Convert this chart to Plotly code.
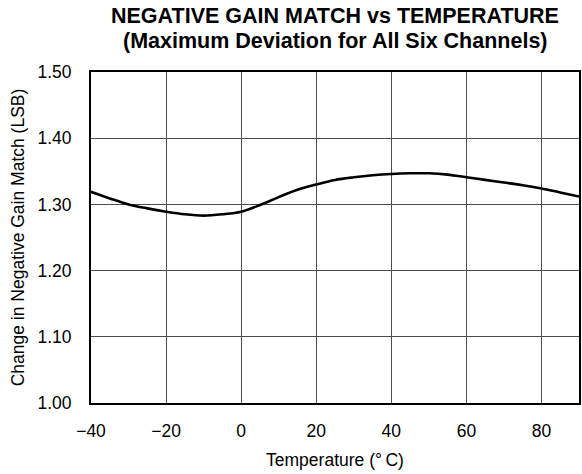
import plotly.graph_objects as go

temperature = [-40, -35, -30, -25, -20, -15, -10, -5, 0, 5, 10, 15, 20, 25, 30, 35, 40, 45, 50, 55, 60, 65, 70, 75, 80, 85, 90]
gain_match = [1.319, 1.309, 1.300, 1.294, 1.289, 1.285, 1.283, 1.285, 1.289, 1.299, 1.311, 1.322, 1.330, 1.337, 1.341, 1.344, 1.346, 1.347, 1.347, 1.345, 1.341, 1.337, 1.333, 1.329, 1.324, 1.318, 1.312]

x_ticks = [-40, -20, 0, 20, 40, 60, 80]
y_ticks = [1.00, 1.10, 1.20, 1.30, 1.40, 1.50]
y_labels = ["1.00", "1.10", "1.20", "1.30", "1.40", "1.50"]

title_line1 = "NEGATIVE GAIN MATCH vs TEMPERATURE"
title_line2 = "(Maximum Deviation for All Six Channels)"

font = "Liberation Sans, Arial, sans-serif"
fs = 17.5

fig = go.Figure()
fig.add_trace(go.Scatter(x=temperature, y=gain_match, mode="lines",
                         line=dict(color="black", width=2.6, shape="spline", smoothing=1.0),
                         showlegend=False, hoverinfo="skip"))

fig.update_layout(
    width=582, height=474,
    margin=dict(l=91, r=1, t=72, b=71),
    paper_bgcolor="white", plot_bgcolor="white",
    font=dict(family=font, size=fs, color="black"),
)
fig.add_annotation(text="<b>" + title_line1 + "</b>", xref="paper", yref="paper",
                   x=0.5, y=1.0, yshift=56, xanchor="center", yanchor="middle",
                   showarrow=False, font=dict(family=font, size=21.5, color="black"))
fig.add_annotation(text="<b>" + title_line2 + "</b>", xref="paper", yref="paper",
                   x=0.5, y=1.0, yshift=31, xanchor="center", yanchor="middle",
                   showarrow=False, font=dict(family=font, size=21.5, color="black"))

fig.update_xaxes(range=[-40, 90], tickvals=x_ticks, showgrid=True, gridcolor="#4d4d4d", gridwidth=1,
                 showline=True, linecolor="black", linewidth=2, mirror=True, zeroline=False,
                 ticks="", ticklabelstandoff=11,
                 title=dict(text="Temperature (°\u2009C)", standoff=14, font=dict(size=fs)),
                 tickfont=dict(size=fs))
fig.update_yaxes(range=[1.0, 1.5], tickvals=y_ticks, ticktext=y_labels, showgrid=True, gridcolor="#4d4d4d", gridwidth=1,
                 showline=True, linecolor="black", linewidth=2, mirror=True, zeroline=False,
                 ticks="", ticklabelstandoff=14,
                 title=dict(text="Change in Negative Gain Match (LSB)", standoff=8, font=dict(size=fs)),
                 tickfont=dict(size=fs))

fig.write_html("out.html", config={"displayModeBar": False, "staticPlot": True})

with open("out.html", "r", encoding="utf-8") as f:
    html = f.read()
html = html.replace("<head>", "<head><style>html,body{margin:0;padding:0;overflow:hidden;}</style>", 1)
with open("out.html", "w", encoding="utf-8") as f:
    f.write(html)
